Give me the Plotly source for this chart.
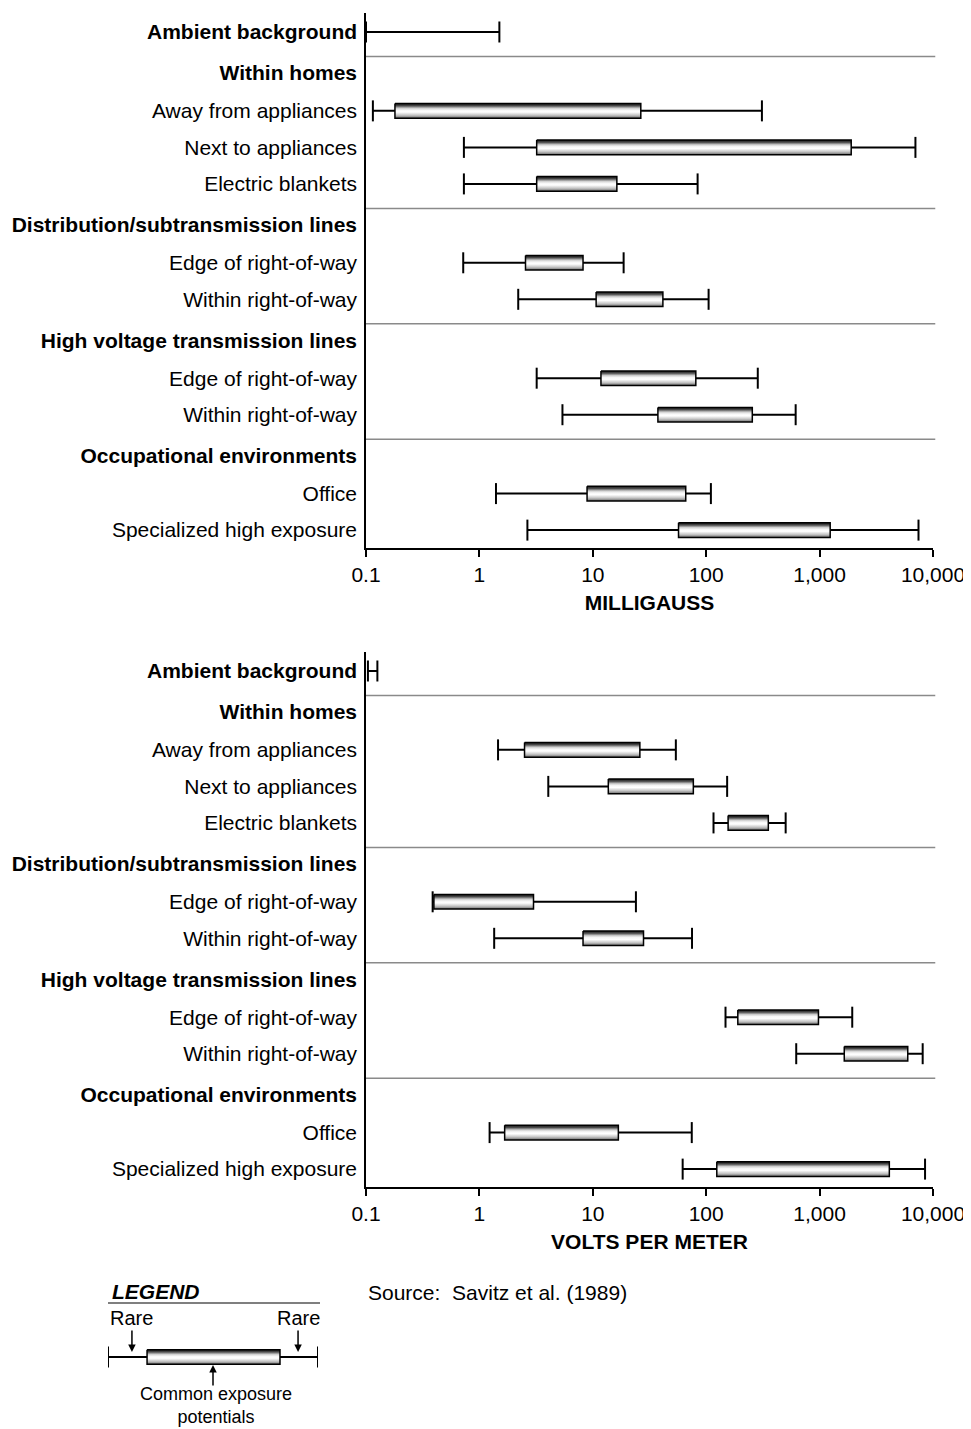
import plotly.graph_objects as go

# page is drawn with an 8px body margin; size the figure to fit the window
OFF = 8
W, H = 971 - OFF, 1429 - OFF
FONT = "Liberation Sans, Arial, Helvetica, sans-serif"
FS = 21

# ---------------- data ----------------
categories = ["Ambient background", "Away from appliances", "Next to appliances", "Electric blankets",
              "Edge of right-of-way", "Within right-of-way", "Edge of right-of-way", "Within right-of-way",
              "Office", "Specialized high exposure"]
groups = ["", "Within homes", "Within homes", "Within homes",
          "Distribution/subtransmission lines", "Distribution/subtransmission lines",
          "High voltage transmission lines", "High voltage transmission lines",
          "Occupational environments", "Occupational environments"]

# Magnetic field (milligauss)
mg_rare_low = [0.1, 0.115, 0.73, 0.73, 0.72, 2.2, 3.2, 5.4, 1.4, 2.65]
mg_common_low = [None, 0.18, 3.2, 3.2, 2.55, 10.7, 11.8, 37.5, 8.9, 57]
mg_common_high = [None, 26.5, 1900, 16.3, 8.2, 41.5, 81, 255, 66, 1240]
mg_rare_high = [1.5, 310, 7000, 84, 18.7, 105, 285, 615, 110, 7450]

# Electric field (volts per meter)
vm_rare_low = [0.104, 1.46, 4.05, 116, 0.387, 1.35, 148, 622, 1.23, 62]
vm_common_low = [None, 2.5, 13.7, 156, 0.397, 8.2, 190, 1650, 1.67, 124]
vm_common_high = [None, 26, 77, 353, 3.0, 28, 977, 5990, 16.8, 4120]
vm_rare_high = [0.126, 54, 153, 502, 24, 75, 1940, 8110, 74.6, 8510]

x_tickvals = [0.1, 1, 10, 100, 1000, 10000]
x_ticktext = ["0.1", "1", "10", "100", "1,000", "10,000"]

# legend schematic (relative units)
legend_rare_low = [0.0]
legend_common_low = [0.186]
legend_common_high = [0.819]
legend_rare_high = [1.0]

# ---------------- layout helpers ----------------
ITEM_STEP = 1.0
HEADER_GAP = 1.12
HEADER_TO_ITEM = 1.04
SEP_OFFSET = 0.67
HALF_BOX = 0.2


def px_x(px):
    return (px - OFF) / W


def px_y(py):
    return 1 - (py - OFF) / H


def build_rows():
    tickvals, ticktext, item_pos, seps = [], [], [], []
    y = 0.0
    prev = None
    for cat, grp in zip(categories, groups):
        if grp == "":
            tickvals.append(y)
            ticktext.append(f"<b>{cat}</b>")
            item_pos.append(y)
        else:
            if grp != prev:
                seps.append(y + SEP_OFFSET)
                y += HEADER_GAP
                tickvals.append(y)
                ticktext.append(f"<b>{grp}</b>")
                y += HEADER_TO_ITEM
            else:
                y += ITEM_STEP
            tickvals.append(y)
            ticktext.append(cat)
            item_pos.append(y)
        prev = grp
    return tickvals, ticktext, item_pos, seps


tickvals, ticktext, item_pos, seps = build_rows()

GRAD = [[0.0, "#1a1a1a"], [0.15, "#4a4a4a"], [0.32, "#cfcfcf"], [0.45, "#f7f7f7"],
        [0.58, "#ffffff"], [0.8, "#c4c4c4"], [1.0, "#6a6a6a"]]

fig = go.Figure()


def add_ranges(rl, cl, ch, rh, ypos, xa, ya):
    lx, ly, cx, cy = [], [], [], []
    for a, b, p in zip(rl, rh, ypos):
        lx += [a, b, None]
        ly += [p, p, None]
        cx += [a, b]
        cy += [p, p]
    fig.add_trace(go.Scatter(x=lx, y=ly, mode="lines", line=dict(color="black", width=2),
                             xaxis=xa, yaxis=ya, hoverinfo="skip"))
    fig.add_trace(go.Scatter(x=cx, y=cy, mode="markers",
                             marker=dict(symbol="line-ns", size=15, color="black",
                                         line=dict(color="black", width=2)),
                             xaxis=xa, yaxis=ya, hoverinfo="skip"))
    for a, b, p in zip(cl, ch, ypos):
        if a is None:
            continue
        fig.add_trace(go.Scatter(
            x=[a, b, b, a, a],
            y=[p - HALF_BOX, p - HALF_BOX, p + HALF_BOX, p + HALF_BOX, p - HALF_BOX],
            mode="lines", fill="toself",
            fillgradient=dict(type="vertical", colorscale=GRAD,
                              start=p - HALF_BOX, stop=p + HALF_BOX),
            line=dict(color="black", width=1.5),
            xaxis=xa, yaxis=ya, hoverinfo="skip"))


add_ranges(mg_rare_low, mg_common_low, mg_common_high, mg_rare_high, item_pos, "x", "y")
add_ranges(vm_rare_low, vm_common_low, vm_common_high, vm_rare_high, item_pos, "x2", "y2")
add_ranges(legend_rare_low, legend_common_low, legend_common_high, legend_rare_high, [0.0], "x3", "y3")

# separators
for yr, xr in (("y", "x domain"), ("y2", "x2 domain")):
    for s in seps:
        fig.add_shape(type="line", xref=xr, yref=yr, x0=0, x1=1.004, y0=s, y1=s,
                      line=dict(color="#8a8a8a", width=1.5), layer="below")

yrange = [item_pos[-1] + 0.49, -0.52]
xdom = [px_x(366), px_x(933)]

common_x = dict(type="log", range=[-1, 4], tickvals=x_tickvals, ticktext=x_ticktext,
                ticks="outside", ticklen=7, tickwidth=1.5, tickcolor="black",
                showline=True, linecolor="black", linewidth=1.5,
                showgrid=False, zeroline=False, tickfont=dict(size=FS, color="black", family=FONT),
                domain=xdom, automargin=False)
common_y = dict(range=yrange, tickvals=tickvals, ticktext=ticktext, ticks="",
                showline=True, linecolor="black", linewidth=1.5, showgrid=False, zeroline=False,
                tickfont=dict(size=FS, color="black", family=FONT), automargin=False,
                ticklabelstandoff=3)

fig.update_layout(
    width=W, height=H,
    margin=dict(l=0, r=0, t=0, b=0),
    paper_bgcolor="white", plot_bgcolor="white",
    showlegend=False,
    font=dict(family=FONT, color="black", size=FS),
    xaxis=dict(**common_x, anchor="y",
               title=dict(text="<b>MILLIGAUSS</b>", font=dict(size=FS, family=FONT), standoff=10)),
    yaxis=dict(**common_y, domain=[px_y(548), px_y(13)], anchor="x"),
    xaxis2=dict(**common_x, anchor="y2",
                title=dict(text="<b>VOLTS PER METER</b>", font=dict(size=FS, family=FONT), standoff=10)),
    yaxis2=dict(**common_y, domain=[px_y(1187), px_y(652)], anchor="x2"),
    xaxis3=dict(range=[0, 1], domain=[px_x(108), px_x(318)], visible=False, anchor="y3", fixedrange=True),
    yaxis3=dict(range=[0.5, -0.5], domain=[px_y(1375.25), px_y(1338.75)],
                visible=False, anchor="x3", fixedrange=True),
)

# legend texts
fig.add_annotation(xref="paper", yref="paper", x=px_x(110), y=px_y(1291),
                   text="<b><i>LEGEND</i></b>", showarrow=False, xanchor="left", yanchor="middle",
                   font=dict(size=FS, family=FONT, color="black"))
fig.add_shape(type="line", xref="paper", yref="paper", x0=px_x(108), x1=px_x(320),
              y0=px_y(1303), y1=px_y(1303), line=dict(color="#555555", width=1.5))
for xv in (0.114, 0.905):
    fig.add_annotation(xref="x3", yref="y3", x=xv, y=-0.14, ax=0, ay=-34, text="Rare",
                       showarrow=True, arrowhead=2, arrowsize=1, arrowwidth=1.5, arrowcolor="black",
                       font=dict(size=20, family=FONT, color="black"))
# arrow to the common-exposure box
fig.add_annotation(xref="x3", yref="y3", x=0.5, y=0.22, ax=0, ay=22, text="",
                   showarrow=True, arrowhead=2, arrowsize=1, arrowwidth=1.5, arrowcolor="black")
fig.add_annotation(xref="paper", yref="paper", x=px_x(216), y=px_y(1405),
                   text="Common exposure<br>potentials", showarrow=False,
                   xanchor="center", yanchor="middle",
                   font=dict(size=18, family=FONT, color="black"))
fig.add_annotation(xref="paper", yref="paper", x=px_x(366), y=px_y(1292),
                   text="Source:\u00a0 Savitz et al. (1989)", showarrow=False,
                   xanchor="left", yanchor="middle", font=dict(size=21, family=FONT, color="black"))

fig.write_html("out.html")
